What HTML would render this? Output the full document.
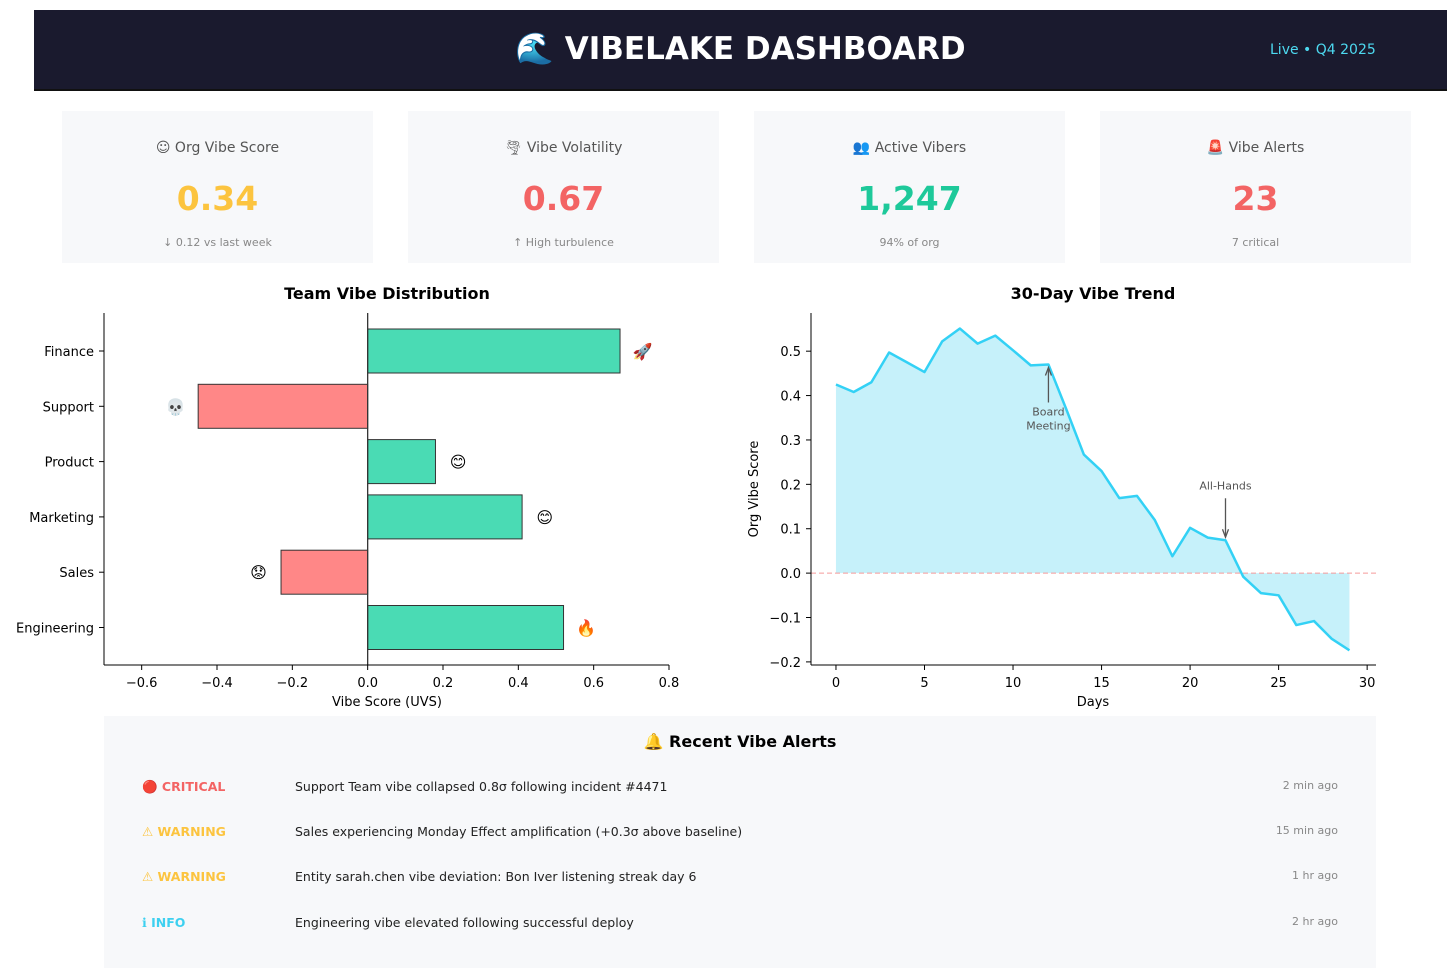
<!DOCTYPE html>
<html><head><meta charset="utf-8"><style>
*{margin:0;padding:0;box-sizing:border-box}
body{width:1456px;height:979px;background:#fff;font-family:"DejaVu Sans","Liberation Sans",sans-serif;position:relative;overflow:hidden}
.abs{position:absolute}
.card{position:absolute;top:111px;width:311px;height:152px;background:#f7f8fa;text-align:center}
.card .t{position:absolute;top:29px;width:100%;font-size:14px;color:#555}
.card .v{position:absolute;top:178px;width:100%;font-size:33px;font-weight:bold}
.card .s{position:absolute;top:125px;width:100%;font-size:11px;color:#888}
.row{position:absolute;left:0;width:1272px;font-size:12.5px}
.lvl{position:absolute;left:38px;font-weight:bold}
.msg{position:absolute;left:191px;color:#222}
.tm{position:absolute;right:38px;color:#888;font-size:11px}
</style></head><body>
<div class="abs" style="left:34px;top:10px;width:1413px;height:81px;background:#1a1a2e;border-bottom:2px solid #111"></div>
<div class="abs" style="left:34px;width:1413px;top:30px;text-align:center;color:#fff;font-size:31px;font-weight:bold">🌊 VIBELAKE DASHBOARD</div>
<div class="abs" style="left:1270px;top:42px;color:#4dd9f0;font-size:14px">Live • Q4 2025</div>

<div class="card" style="left:62px"><div class="t">☺ Org Vibe Score</div><div class="v" style="top:68px;color:#fcc43f">0.34</div><div class="s">↓ 0.12 vs last week</div></div>
<div class="card" style="left:408px"><div class="t">🌪 Vibe Volatility</div><div class="v" style="top:68px;color:#f36464">0.67</div><div class="s">↑ High turbulence</div></div>
<div class="card" style="left:754px"><div class="t">👥 Active Vibers</div><div class="v" style="top:68px;color:#1ec99a">1,247</div><div class="s">94% of org</div></div>
<div class="card" style="left:1100px"><div class="t">🚨 Vibe Alerts</div><div class="v" style="top:68px;color:#f36464">23</div><div class="s">7 critical</div></div>

<svg class="abs" style="left:0;top:0" width="1456" height="979" id="charts" font-family="DejaVu Sans, Liberation Sans, sans-serif"></svg>

<div class="abs" style="left:104px;top:716px;width:1272px;height:252px;background:#f7f8fa">
<div class="abs" style="top:16px;width:100%;text-align:center;font-size:16px;font-weight:bold">🔔 Recent Vibe Alerts</div>
<div class="row" style="top:63px"><span class="lvl" style="color:#f36464">🔴 CRITICAL</span><span class="msg">Support Team vibe collapsed 0.8σ following incident #4471</span><span class="tm">2 min ago</span></div>
<div class="row" style="top:108px"><span class="lvl" style="color:#fcc43f">⚠ WARNING</span><span class="msg">Sales experiencing Monday Effect amplification (+0.3σ above baseline)</span><span class="tm">15 min ago</span></div>
<div class="row" style="top:153px"><span class="lvl" style="color:#fcc43f">⚠ WARNING</span><span class="msg">Entity sarah.chen vibe deviation: Bon Iver listening streak day 6</span><span class="tm">1 hr ago</span></div>
<div class="row" style="top:199px"><span class="lvl" style="color:#3dd0f0">ℹ INFO</span><span class="msg">Engineering vibe elevated following successful deploy</span><span class="tm">2 hr ago</span></div>
</div>

<script>
const teams = ["Finance","Support","Product","Marketing","Sales","Engineering"];
const teamScores = [0.67,-0.45,0.18,0.41,-0.23,0.52];
const teamEmojis = ["🚀","💀","😊","😊","😟","🔥"];
const xTicksBar = [-0.6,-0.4,-0.2,0.0,0.2,0.4,0.6,0.8];
const days = [0,1,2,3,4,5,6,7,8,9,10,11,12,13,14,15,16,17,18,19,20,21,22,23,24,25,26,27,28,29];
const trendValues = [0.425,0.408,0.43,0.497,0.475,0.453,0.522,0.551,0.517,0.535,0.502,0.468,0.47,0.37,0.267,0.23,0.169,0.174,0.12,0.038,0.102,0.08,0.074,-0.008,-0.045,-0.05,-0.117,-0.108,-0.148,-0.174];
const xTicksTrend = [0,5,10,15,20,25,30];
const yTicksTrend = [-0.2,-0.1,0.0,0.1,0.2,0.3,0.4,0.5];
const events = [{day:12,label:["Board","Meeting"],dir:"up"},{day:22,label:["All-Hands"],dir:"down"}];

const svg=document.getElementById('charts');
const NS='http://www.w3.org/2000/svg';
function mk(tag,attrs,parent,name){const e=document.createElementNS(NS,tag);for(const k in attrs)e.setAttribute(k,attrs[k]);


(parent||svg).appendChild(e);return e;}
function txt(x,y,s,attrs,name){const t=mk('text',Object.assign({x:x,y:y},attrs||{}),svg,name);t.textContent=s;return t;}
function fmt(v){return (v<0?'\u2212':'')+Math.abs(v).toFixed(1);}

// Bar chart
const bL=104,bR=669,bT=313,bB=665,bMin=-0.7,bMax=0.8;
const bx=v=>bL+(v-bMin)/(bMax-bMin)*(bR-bL);
const rowH=(bB-bT)/6.37, by=i=>bT+38+i*55.3;
txt(387,299,"Team Vibe Distribution",{"font-size":16,"font-weight":"bold","text-anchor":"middle"},"bar-chart-title");
teams.forEach((t,i)=>{
 const v=teamScores[i],x0=bx(0),x1=bx(v),yc=by(i);
 mk('rect',{x:Math.min(x0,x1),y:yc-22,width:Math.abs(x1-x0),height:44,fill:v>=0?'#4adbb4':'#ff8787',stroke:'#333','stroke-width':1},svg,'bar-'+t.toLowerCase());
 mk('line',{x1:bL-5,x2:bL,y1:yc,y2:yc,stroke:'#000'},svg,'y-tick');
 txt(bL-10,yc+5,t,{"font-size":13,"text-anchor":"end"},'y-tick-label');
 txt(bx(v+(v>=0?0.06:-0.06)),yc+6,teamEmojis[i],{"font-size":16,"text-anchor":"middle"},'bar-emoji');
});
mk('line',{x1:bx(0),x2:bx(0),y1:bT,y2:bB,stroke:'#333','stroke-width':1.3},svg,'zero-line');
mk('line',{x1:bL,x2:bL,y1:bT,y2:bB,stroke:'#000'},svg,'y-axis');
mk('line',{x1:bL,x2:bR,y1:bB,y2:bB,stroke:'#000'},svg,'x-axis');
xTicksBar.forEach(v=>{mk('line',{x1:bx(v),x2:bx(v),y1:bB,y2:bB+5,stroke:'#000'},svg,'x-tick');txt(bx(v),bB+22,fmt(v),{"font-size":13,"text-anchor":"middle"},'x-tick-label');});
txt(387,706,"Vibe Score (UVS)",{"font-size":13,"text-anchor":"middle"},'x-axis-title');

// Trend chart
const tL=811,tR=1376,tT=313,tB=665,xMin=-1.41,xMax=30.5,yMin=-0.207,yMax=0.586;
const tx=d=>tL+(d-xMin)/(xMax-xMin)*(tR-tL);
const ty=v=>tB-(v-yMin)/(yMax-yMin)*(tB-tT);
txt(1093,299,"30-Day Vibe Trend",{"font-size":16,"font-weight":"bold","text-anchor":"middle"},'trend-chart-title');
let pts=days.map((d,i)=>tx(d)+','+ty(trendValues[i]));
mk('polygon',{points:tx(days[0])+','+ty(0)+' '+pts.join(' ')+' '+tx(days[days.length-1])+','+ty(0),fill:'#c6f1fa'},svg,'trend-area');
mk('line',{x1:tL,x2:tR,y1:ty(0),y2:ty(0),stroke:'#f59a9a','stroke-dasharray':'5,3','stroke-width':1},svg,'baseline');
mk('polyline',{points:pts.join(' '),fill:'none',stroke:'#33d1f5','stroke-width':2.5,'stroke-linejoin':'round'},svg,'trend-line');
mk('line',{x1:tL,x2:tL,y1:tT,y2:tB,stroke:'#000'},svg,'trend-y-axis');
mk('line',{x1:tL,x2:tR,y1:tB,y2:tB,stroke:'#000'},svg,'trend-x-axis');
xTicksTrend.forEach(v=>{mk('line',{x1:tx(v),x2:tx(v),y1:tB,y2:tB+5,stroke:'#000'},svg,'x-tick');txt(tx(v),tB+22,String(v),{"font-size":13,"text-anchor":"middle"},'x-tick-label');});
yTicksTrend.forEach(v=>{mk('line',{x1:tL-5,x2:tL,y1:ty(v),y2:ty(v),stroke:'#000'},svg,'y-tick');txt(tL-10,ty(v)+5,fmt(v),{"font-size":13,"text-anchor":"end"},'y-tick-label');});
txt(1093,706,"Days",{"font-size":13,"text-anchor":"middle"},'trend-x-title');
txt(758,489,"Org Vibe Score",{"font-size":13,"text-anchor":"middle",transform:"rotate(-90 758 489)"},'trend-y-title');
events.forEach(e=>{
 const x=tx(e.day),yv=ty(trendValues[e.day]);
 if(e.dir==="up"){
  mk('line',{x1:x,x2:x,y1:yv+38,y2:yv+4,stroke:'#555','stroke-width':1.3},svg,'annotation-arrow');
  mk('path',{d:`M${x-3},${yv+11} L${x},${yv+3} L${x+3},${yv+11}`,fill:'none',stroke:'#555','stroke-width':1.3},svg,'annotation-arrowhead');
  e.label.forEach((l,k)=>txt(x,yv+51+k*14,l,{"font-size":11,fill:'#555',"text-anchor":"middle"},'annotation-label'));
 } else {
  mk('line',{x1:x,x2:x,y1:yv-42,y2:yv-4,stroke:'#555','stroke-width':1.3},svg,'annotation-arrow');
  mk('path',{d:`M${x-3},${yv-11} L${x},${yv-3} L${x+3},${yv-11}`,fill:'none',stroke:'#555','stroke-width':1.3},svg,'annotation-arrowhead');
  txt(x,yv-51,e.label[0],{"font-size":11,fill:'#555',"text-anchor":"middle"},'annotation-label');
 }
});
</script>
</body></html>
